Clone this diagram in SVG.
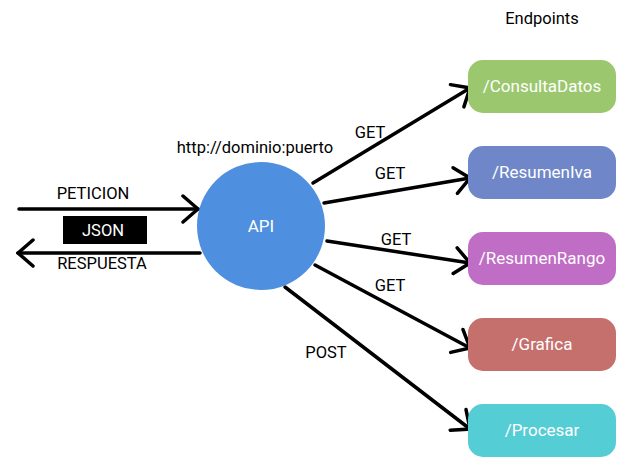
<svg xmlns="http://www.w3.org/2000/svg" width="640" height="475" viewBox="0 0 640 475">
<style>
text{font-family:Roboto,"Liberation Sans",sans-serif;}
.lbl{font-size:16.5px;fill:#000;text-anchor:middle;}
.wt{font-size:17px;fill:#fff;text-anchor:middle;}
.ln{stroke:#000;stroke-width:3.5;fill:none;stroke-linecap:round;}
</style>
<defs>
<marker id="ah" markerUnits="userSpaceOnUse" viewBox="0 0 20 30" markerWidth="20" markerHeight="30" refX="18" refY="15" orient="auto">
<path d="M3,2 L18,15 L3,28" fill="none" stroke="#000" stroke-width="3.5" stroke-linecap="round" stroke-linejoin="miter"/>
</marker>
</defs>
<rect width="640" height="475" fill="#fff"/>
<g id="connectors">
<line class="ln" x1="19" y1="209" x2="198" y2="209" marker-end="url(#ah)"/>
<line class="ln" x1="200" y1="253" x2="18" y2="253" marker-end="url(#ah)"/>
<line class="ln" x1="313" y1="183" x2="470" y2="88" marker-end="url(#ah)"/>
<line class="ln" x1="324" y1="203" x2="470" y2="178" marker-end="url(#ah)"/>
<line class="ln" x1="327" y1="241" x2="470" y2="263" marker-end="url(#ah)"/>
<line class="ln" x1="315" y1="265" x2="470" y2="348" marker-end="url(#ah)"/>
<line class="ln" x1="285" y1="287" x2="470" y2="429" marker-end="url(#ah)"/>
<text class="lbl" x="370" y="138">GET</text>
<text class="lbl" x="390" y="179">GET</text>
<text class="lbl" x="396" y="245">GET</text>
<text class="lbl" x="390" y="291">GET</text>
<text class="lbl" x="326" y="358">POST</text>
<text class="lbl" x="93" y="199">PETICION</text>
<text class="lbl" x="102" y="269">RESPUESTA</text>
</g>
<g id="json">
<rect x="63" y="216" width="84" height="28" fill="#000"/>
<text class="wt" x="103" y="236" style="font-size:16.5px">JSON</text>
</g>
<g id="api">
<circle cx="261" cy="226" r="64" fill="#4F8FDF"/>
<text class="wt" x="261" y="232">API</text>
<text class="lbl" x="255" y="153">http://dominio:puerto</text>
</g>
<text class="lbl" x="542" y="24">Endpoints</text>
<g id="consultadatos">
<rect x="468" y="60" width="148" height="53" rx="15" fill="#9BC86E"/>
<text class="wt" x="542" y="92">/ConsultaDatos</text>
</g>
<g id="resumeniva">
<rect x="468" y="146" width="148" height="53" rx="15" fill="#6F87C8"/>
<text class="wt" x="542" y="178">/ResumenIva</text>
</g>
<g id="resumenrango">
<rect x="468" y="232" width="148" height="53" rx="15" fill="#C06DC6"/>
<text class="wt" x="542" y="264">/ResumenRango</text>
</g>
<g id="grafica">
<rect x="468" y="318" width="148" height="53" rx="15" fill="#C6706E"/>
<text class="wt" x="542" y="350">/Grafica</text>
</g>
<g id="procesar">
<rect x="468" y="404" width="148" height="53" rx="15" fill="#55CDD4"/>
<text class="wt" x="542" y="436">/Procesar</text>
</g>
</svg>
